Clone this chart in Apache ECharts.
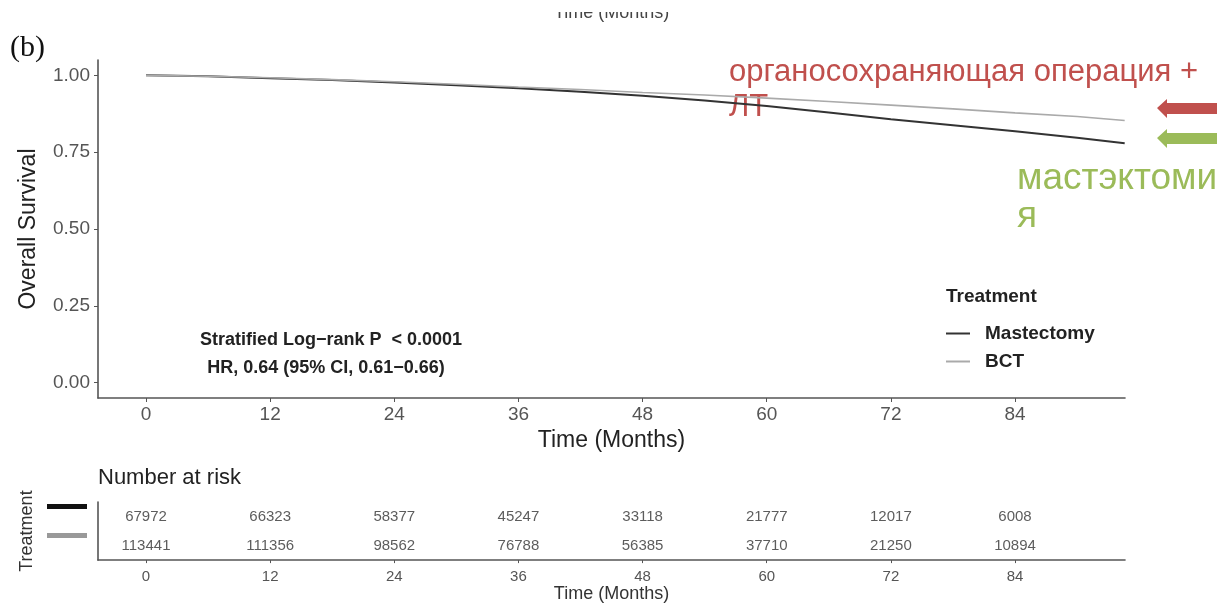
<!DOCTYPE html>
<html><head><meta charset="utf-8">
<script src="https://cdn.jsdelivr.net/npm/echarts@6/dist/echarts.min.js"></script>
<style>html,body{margin:0;padding:0;background:#fff}#c{width:1217px;height:604px}</style>
</head><body><div id="c"></div>
<script>
// ---- data ----
const months = [0, 6, 12, 18, 24, 30, 36, 42, 48, 54, 60, 66, 72, 78, 84, 90, 94.6];
const mastectomy = [1.0, 0.997, 0.991, 0.985, 0.977, 0.968, 0.958, 0.947, 0.934, 0.918, 0.900, 0.879, 0.857, 0.838, 0.818, 0.797, 0.779];
const bct = [1.0, 0.997, 0.992, 0.986, 0.979, 0.971, 0.962, 0.954, 0.944, 0.936, 0.926, 0.915, 0.903, 0.891, 0.878, 0.866, 0.853];
const xTicks = [0, 12, 24, 36, 48, 60, 72, 84];
const yTicks = [0, 0.25, 0.5, 0.75, 1.0];
const riskMonths = [0, 12, 24, 36, 48, 60, 72, 84];
const riskMastectomy = [67972, 66323, 58377, 45247, 33118, 21777, 12017, 6008];
const riskBCT = [113441, 111356, 98562, 76788, 56385, 37710, 21250, 10894];
const groups = ['Mastectomy', 'BCT'];

const FONT = '"Liberation Sans", Arial, sans-serif';
const axisGray = '#555';
const chart = echarts.init(document.getElementById('c'));

const pair = (xs, ys) => xs.map((x, i) => [x, ys[i]]);
const riskData = riskMonths.map((m, i) => [m, 'Mastectomy', riskMastectomy[i]])
  .concat(riskMonths.map((m, i) => [m, 'BCT', riskBCT[i]]));

const xMin = -4.64, xMax = 94.63;

chart.setOption({
  animation: false,
  backgroundColor: '#fff',
  textStyle: { fontFamily: FONT },
  grid: [
    { left: 98, width: 1027, top: 60, height: 338 },
    { left: 98, width: 1027, top: 502, height: 60 }
  ],
  legend: {
    data: groups,
    orient: 'vertical',
    left: 941,
    top: 319,
    icon: 'rect',
    itemWidth: 24,
    itemHeight: 2,
    itemGap: 9,
    textStyle: { fontFamily: FONT, fontSize: 19, fontWeight: 'bold', color: '#222', padding: [0, 0, 0, 10] }
  },
  xAxis: [
    {
      type: 'value', gridIndex: 0, min: xMin, max: xMax,
      name: 'Time (Months)', nameLocation: 'middle', nameGap: 28,
      nameTextStyle: { fontSize: 23, color: '#222', fontFamily: FONT },
      axisLine: { show: true, onZero: false, lineStyle: { color: axisGray, width: 1.6 } },
      axisTick: { show: true, customValues: xTicks, length: 4, lineStyle: { color: axisGray } },
      axisLabel: { customValues: xTicks, fontSize: 19, color: '#555', margin: 7 },
      splitLine: { show: false }
    },
    {
      type: 'value', gridIndex: 1, min: xMin, max: xMax,
      name: 'Time (Months)', nameLocation: 'middle', nameGap: 24,
      nameTextStyle: { fontSize: 18, color: '#333', fontFamily: FONT },
      axisLine: { show: true, onZero: false, lineStyle: { color: axisGray, width: 1.6 } },
      axisTick: { show: true, customValues: riskMonths, length: 3, lineStyle: { color: axisGray } },
      axisLabel: { customValues: riskMonths, fontSize: 15, color: '#555', margin: 9 },
      splitLine: { show: false }
    }
  ],
  yAxis: [
    {
      type: 'value', gridIndex: 0, min: -0.05, max: 1.05,
      name: 'Overall Survival', nameLocation: 'middle', nameGap: 58, nameRotate: 90,
      nameTextStyle: { fontSize: 23, color: '#222', fontFamily: FONT },
      axisLine: { show: true, onZero: false, lineStyle: { color: axisGray, width: 1.6 } },
      axisTick: { show: true, customValues: yTicks, length: 4, lineStyle: { color: axisGray } },
      axisLabel: { customValues: yTicks, fontSize: 19, color: '#555', margin: 8, formatter: v => v.toFixed(2) },
      splitLine: { show: false }
    },
    {
      type: 'category', gridIndex: 1, data: ['BCT', 'Mastectomy'],
      name: 'Treatment', nameLocation: 'middle', nameGap: 62, nameRotate: 90,
      nameTextStyle: { fontSize: 18, color: '#333', fontFamily: FONT },
      axisLine: { show: true, onZero: false, lineStyle: { color: axisGray, width: 1.6 } },
      axisTick: { show: false },
      axisLabel: {
        margin: 11,
        padding: [0, 0, 20, 0],
        formatter: v => v === 'Mastectomy' ? '{m|}' : '{b|}',
        rich: {
          m: { width: 40, height: 5, backgroundColor: '#111' },
          b: { width: 40, height: 5, backgroundColor: '#999' }
        }
      }
    }
  ],
  series: [
    {
      name: 'Mastectomy', type: 'line', xAxisIndex: 0, yAxisIndex: 0,
      data: pair(months, mastectomy), showSymbol: false, smooth: false,
      lineStyle: { color: '#333', width: 2 }, itemStyle: { color: '#333' }
    },
    {
      name: 'BCT', type: 'line', xAxisIndex: 0, yAxisIndex: 0,
      data: pair(months, bct), showSymbol: false, smooth: false,
      lineStyle: { color: '#aaa', width: 1.6 }, itemStyle: { color: '#aaa' }
    },
    {
      name: 'risk', type: 'scatter', xAxisIndex: 1, yAxisIndex: 1,
      data: riskData, symbolSize: 1, itemStyle: { color: 'rgba(0,0,0,0)' },
      label: { show: true, position: 'inside', formatter: p => String(p.value[2]), fontSize: 15, color: '#333', fontFamily: FONT },
      emphasis: { disabled: true }
    }
  ],
  graphic: [
    { type: 'text', left: 10, top: 33, style: { text: '(b)', font: '30px "Liberation Serif", "Times New Roman", serif', fill: '#111' } },
    { type: 'text', x: 554, y: 22, z: 1, style: { text: 'Time (Months)', font: '18px ' + FONT, fill: '#444', verticalAlign: 'bottom' } },
    { type: 'rect', z: 2, shape: { x: 540, y: 0, width: 150, height: 12 }, style: { fill: '#fff' } },
    { type: 'text', x: 331, y: 340, style: { text: 'Stratified Log\u2212rank P  < 0.0001', font: 'bold 18px ' + FONT, fill: '#222', align: 'center', verticalAlign: 'middle' } },
    { type: 'text', x: 326, y: 368, style: { text: 'HR, 0.64 (95% CI, 0.61\u22120.66)', font: 'bold 18px ' + FONT, fill: '#222', align: 'center', verticalAlign: 'middle' } },
    { type: 'text', x: 946, y: 297, style: { text: 'Treatment', font: 'bold 19px ' + FONT, fill: '#222', verticalAlign: 'middle' } },
    { type: 'text', x: 98, y: 478, style: { text: 'Number at risk', font: '22px ' + FONT, fill: '#222', verticalAlign: 'middle' } },
    { type: 'text', x: 729, y: 72, style: { text: 'органосохраняющая операция +', font: '31px ' + FONT, fill: '#c0504d', verticalAlign: 'middle' } },
    { type: 'text', x: 729, y: 107, style: { text: 'ЛТ', font: '31px ' + FONT, fill: '#c0504d', verticalAlign: 'middle' } },
    { type: 'text', x: 1017, y: 179, style: { text: 'мастэктоми', font: '37px ' + FONT, fill: '#9bbb59', verticalAlign: 'middle' } },
    { type: 'text', x: 1017, y: 217, style: { text: 'я', font: '37px ' + FONT, fill: '#9bbb59', verticalAlign: 'middle' } },
    { type: 'polygon', shape: { points: [[1157, 108], [1167, 99], [1167, 103], [1217, 103], [1217, 114], [1167, 114], [1167, 118]] }, style: { fill: '#c0504d' } },
    { type: 'polygon', shape: { points: [[1157, 138], [1167, 129], [1167, 133], [1217, 133], [1217, 144], [1167, 144], [1167, 148]] }, style: { fill: '#9bbb59' } }
  ]
});
</script>
</body></html>
